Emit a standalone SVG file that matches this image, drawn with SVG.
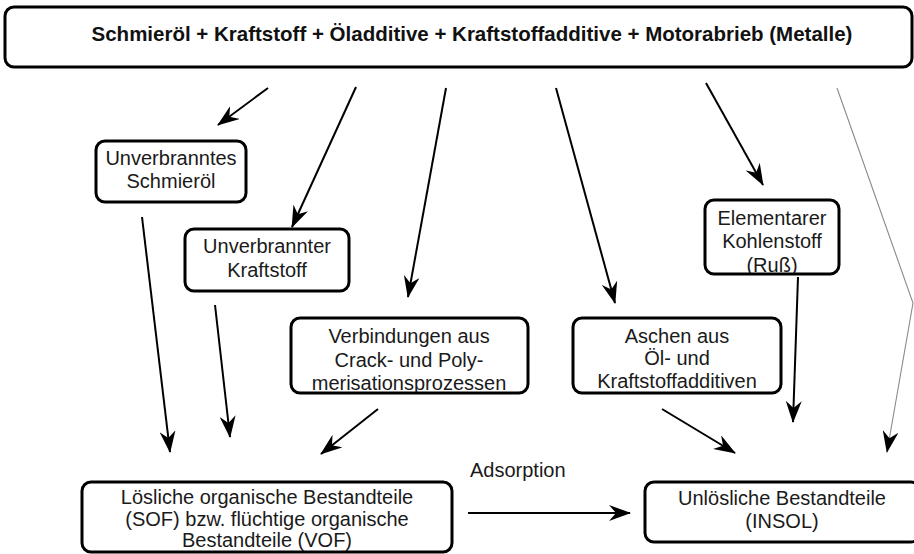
<svg xmlns="http://www.w3.org/2000/svg" width="914" height="554" viewBox="0 0 914 554">
<style>
.box{fill:#fff;stroke:#000;stroke-width:3}
.t{font-family:"Liberation Sans",Arial,sans-serif;font-size:20px;fill:#1a1a1a;text-anchor:middle}
.tb{font-family:"Liberation Sans",Arial,sans-serif;font-size:20.5px;font-weight:bold;fill:#111;text-anchor:middle}
.c{fill:none;stroke:#000;stroke-width:2;marker-end:url(#ah)}
.g{fill:none;stroke:#8a8a8a;stroke-width:1.1;marker-end:url(#ah)}
</style>
<defs>
<marker id="ah" markerUnits="userSpaceOnUse" viewBox="0 0 22 16" refX="21" refY="8" markerWidth="22" markerHeight="16" orient="auto">
<path d="M0,0 L22,8 L0,16 L7,8 Z" fill="#000"/>
</marker>
<clipPath id="cV"><rect x="292" y="319" width="235" height="73"/></clipPath>
<clipPath id="cE"><rect x="706" y="201" width="132" height="72"/></clipPath>
</defs>
<rect width="914" height="554" fill="#fff"/>

<g id="top">
<rect class="box" x="5" y="7" width="907" height="60" rx="9"/>
<text class="tb" x="472" y="41">Schmieröl + Kraftstoff + Öladditive + Kraftstoffadditive + Motorabrieb (Metalle)</text>
</g>

<g id="schmieroel">
<rect class="box" x="96" y="141" width="150" height="61" rx="9"/>
<text class="t" x="171" y="165">Unverbranntes</text>
<text class="t" x="171" y="188">Schmieröl</text>
</g>

<g id="kraftstoff">
<rect class="box" x="185" y="229" width="164" height="62" rx="9"/>
<text class="t" x="267" y="253">Unverbrannter</text>
<text class="t" x="267" y="277">Kraftstoff</text>
</g>

<g id="verbindungen">
<rect class="box" x="291" y="318" width="237" height="75" rx="9"/>
<g clip-path="url(#cV)">
<text class="t" x="409" y="343">Verbindungen aus</text>
<text class="t" x="409" y="367">Crack- und Poly-</text>
<text class="t" x="409" y="390">merisationsprozessen</text>
</g>
</g>

<g id="aschen">
<rect class="box" x="573" y="318" width="208" height="75" rx="9"/>
<text class="t" x="677" y="343">Aschen aus</text>
<text class="t" x="677" y="365">Öl- und</text>
<text class="t" x="677" y="388">Kraftstoffadditiven</text>
</g>

<g id="russ">
<rect class="box" x="705" y="200" width="134" height="74" rx="9"/>
<g clip-path="url(#cE)">
<text class="t" x="772" y="225">Elementarer</text>
<text class="t" x="772" y="248">Kohlenstoff</text>
<text class="t" x="772" y="272">(Ruß)</text>
</g>
</g>

<g id="sof">
<rect class="box" x="82" y="482" width="370" height="70" rx="9"/>
<text class="t" x="267" y="504">Lösliche organische Bestandteile</text>
<text class="t" x="267" y="526">(SOF) bzw. flüchtige organische</text>
<text class="t" x="267" y="547">Bestandteile (VOF)</text>
</g>

<g id="insol">
<rect class="box" x="645" y="482" width="275" height="60" rx="9"/>
<text class="t" x="782" y="505">Unlösliche Bestandteile</text>
<text class="t" x="782" y="528">(INSOL)</text>
</g>

<g id="connectors">
<line class="c" x1="268" y1="88" x2="218" y2="125"/>
<line class="c" x1="356" y1="87" x2="292" y2="227"/>
<line class="c" x1="446" y1="88" x2="408" y2="297"/>
<line class="c" x1="556" y1="88" x2="615" y2="303"/>
<line class="c" x1="706" y1="83" x2="763" y2="185"/>
<polyline class="g" points="837,88 913,303 887,452"/>
<line class="c" x1="142" y1="217" x2="170" y2="452"/>
<line class="c" x1="215" y1="305" x2="230" y2="437"/>
<line class="c" x1="378" y1="409" x2="321" y2="454"/>
<line class="c" x1="662" y1="409" x2="735" y2="453"/>
<line class="c" x1="798" y1="277" x2="793" y2="422"/>
<line class="c" x1="468" y1="513" x2="630" y2="513"/>
<text class="t" x="470" y="477" style="text-anchor:start">Adsorption</text>
</g>
</svg>
